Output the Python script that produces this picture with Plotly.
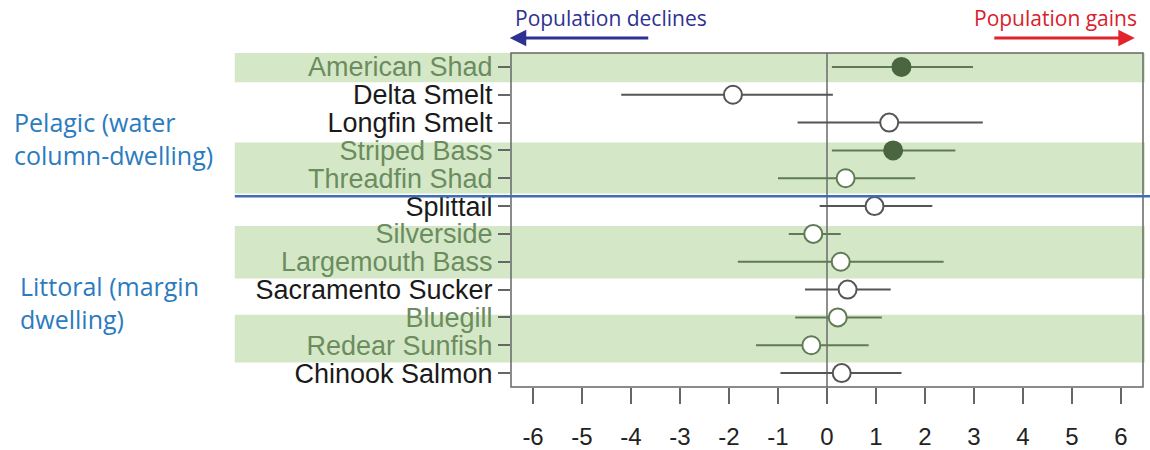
import plotly.graph_objects as go

species = ["American Shad", "Delta Smelt", "Longfin Smelt", "Striped Bass", "Threadfin Shad",
           "Splittail", "Silverside", "Largemouth Bass", "Sacramento Sucker", "Bluegill",
           "Redear Sunfish", "Chinook Salmon"]
estimate = [1.52, -1.92, 1.27, 1.35, 0.38, 0.97, -0.28, 0.28, 0.42, 0.22, -0.32, 0.3]
ci_low = [0.1, -4.2, -0.6, 0.1, -1.0, -0.15, -0.78, -1.82, -0.45, -0.65, -1.45, -0.95]
ci_high = [2.98, 0.12, 3.18, 2.62, 1.8, 2.15, 0.28, 2.38, 1.3, 1.12, 0.85, 1.52]
filled = [True, False, False, True, False, False, False, False, False, False, False, False]
green_row = [True, False, False, True, True, False, True, True, False, True, True, False]
x_ticks = [-6, -5, -4, -3, -2, -1, 0, 1, 2, 3, 4, 5, 6]
bands = [(-0.5, 0.55), (2.72, 4.55), (5.72, 7.6), (8.9, 10.62)]

GREEN_BAND = "#d4e8c8"
GREEN_TEXT = "#6c8c5e"
GREEN_LINE = "#5f7a55"
DARK_FILL = "#4a6641"

fig = go.Figure()
for i, name in enumerate(species):
    lc = GREEN_LINE if green_row[i] else "#555555"
    fig.add_trace(go.Scatter(
        x=[estimate[i]], y=[i], mode="markers",
        marker=dict(size=18, symbol="circle",
                    color=DARK_FILL if filled[i] else "white",
                    line=dict(color=DARK_FILL if filled[i] else lc, width=2)),
        error_x=dict(type="data", symmetric=False,
                     array=[ci_high[i] - estimate[i]],
                     arrayminus=[estimate[i] - ci_low[i]],
                     width=0, thickness=2, color=lc),
        showlegend=False, hoverinfo="skip"))

shapes = []
for y0, y1 in bands:
    shapes.append(dict(type="rect", xref="paper", yref="y", x0=-0.437, x1=1.003,
                       y0=y0, y1=y1, fillcolor=GREEN_BAND, line=dict(width=0), layer="below"))
shapes.append(dict(type="line", xref="x", yref="paper", x0=0, x1=0, y0=0, y1=1,
                   line=dict(color="#6a6a6a", width=1.5), layer="below"))
shapes.append(dict(type="rect", xref="paper", yref="paper", x0=0, x1=1, y0=0, y1=1,
                   line=dict(color="#666666", width=1.5)))
shapes.append(dict(type="line", xref="paper", yref="y", x0=-0.437, x1=1.012, y0=4.65, y1=4.65,
                   line=dict(color="#3d6db5", width=2.5)))

ticktext = [f"<span style='color:{GREEN_TEXT if g else '#1a1a1a'}'>{s}</span>"
            for s, g in zip(species, green_row)]

annotations = [
    dict(text="Population declines", xref="paper", yref="paper", x=0.158, y=1.105,
         xanchor="center", yanchor="middle", showarrow=False,
         font=dict(family="Open Sans", size=21, color="#2e3192")),
    dict(text="Population gains", xref="paper", yref="paper", x=0.862, y=1.105,
         xanchor="center", yanchor="middle", showarrow=False,
         font=dict(family="Open Sans", size=21, color="#d9202b")),
    dict(text="", xref="paper", yref="paper", x=-0.002, y=1.045, ax=140, ay=0,
         showarrow=True, arrowhead=2, arrowsize=1.1, arrowwidth=3, arrowcolor="#2e3192"),
    dict(text="", xref="paper", yref="paper", x=0.987, y=1.045, ax=-142, ay=0,
         showarrow=True, arrowhead=2, arrowsize=1.1, arrowwidth=3, arrowcolor="#e3232b"),
    dict(text="Pelagic (water<br>column-dwelling)", xref="paper", yref="paper",
         x=-0.79, y=0.745, xanchor="left", yanchor="middle", align="left", showarrow=False,
         font=dict(family="Open Sans", size=25, color="#2b7bbf")),
    dict(text="Littoral (margin<br>dwelling)", xref="paper", yref="paper",
         x=-0.78, y=0.252, xanchor="left", yanchor="middle", align="left", showarrow=False,
         font=dict(family="Open Sans", size=25, color="#2b7bbf")),
]

fig.update_layout(
    width=1150, height=450,
    margin=dict(l=511, r=7, t=53, b=63),
    plot_bgcolor="rgba(0,0,0,0)", paper_bgcolor="white",
    shapes=shapes, annotations=annotations,
    xaxis=dict(range=[-6.45, 6.45], tickvals=x_ticks, ticktext=[str(v) for v in x_ticks],
               ticks="outside", ticklen=16, tickwidth=2, tickcolor="#666666",
               showgrid=False, zeroline=False, showline=False, ticklabelstandoff=12,
               automargin=False,
               tickfont=dict(family="Liberation Sans", size=24, color="#222222")),
    yaxis=dict(range=[11.5, -0.5], tickvals=list(range(len(species))), ticktext=ticktext,
               ticks="outside", ticklen=12, tickwidth=2, tickcolor="#666666",
               showgrid=False, zeroline=False, showline=False, ticklabelstandoff=0,
               automargin=False,
               tickfont=dict(family="Liberation Sans", size=27, color="#1a1a1a")),
)

fig.write_html("out.html", config={"displayModeBar": False},
               post_script="document.body.style.margin='0';")
